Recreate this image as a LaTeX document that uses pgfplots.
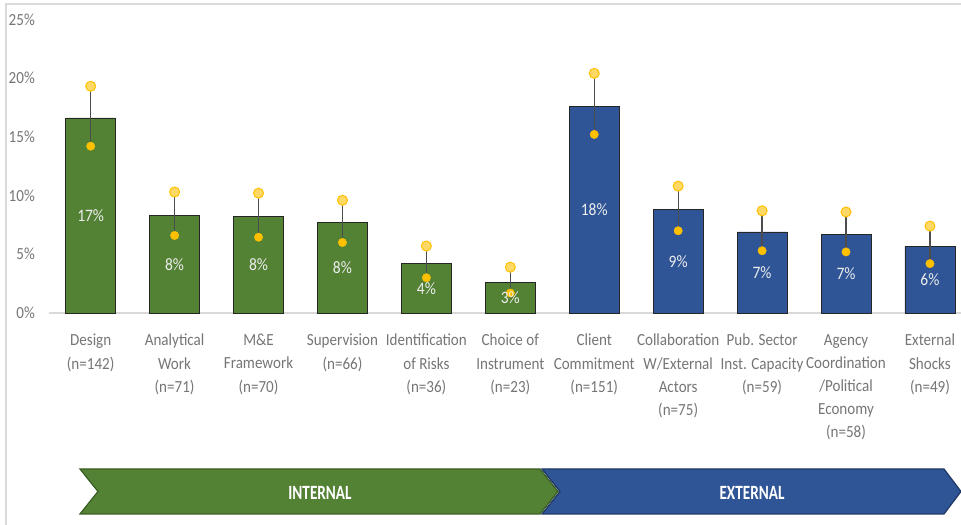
\documentclass[border=0pt]{standalone}
\usepackage{fontspec}
\setmainfont{Carlito}[FakeStretch=0.89]
\usepackage{graphicx}
\usepackage{pgfplots}
\pgfplotsset{compat=1.18}
\definecolor{barGreen}{HTML}{548235}
\definecolor{barBlue}{HTML}{2F5597}
\definecolor{barEdge}{HTML}{262626}
\definecolor{errGray}{HTML}{4D4D4D}
\definecolor{dotGold}{HTML}{FFC000}
\definecolor{dotLight}{HTML}{FFD966}
\definecolor{labGray}{HTML}{767676}
\definecolor{axisGray}{HTML}{D9D9D9}
\definecolor{frameGray}{HTML}{D9D9D9}
\definecolor{valWhite}{HTML}{EDEDED}
\definecolor{greenEdge}{HTML}{3A5E24}
\definecolor{blueEdge}{HTML}{1F3864}
\begin{document}
\begin{tikzpicture}
\useasboundingbox (0,0) rectangle (961bp,525bp);
\fill[white] (0,0) rectangle (961bp,525bp);
\draw[frameGray, line width=1.5bp] (6bp,0) -- (6bp,521bp) -- (961bp,521bp);
\begin{axis}[
  at={(48.7bp,212bp)}, anchor=south west, scale only axis,
  width=912.3bp, height=293.7bp,
  xmin=-0.5, xmax=10.37, ymin=0, ymax=25,
  clip=false,
  axis lines*=left,
  x axis line style={draw=axisGray, line width=1.2bp},
  y axis line style={draw=none},
  tick style={draw=none},
  /pgf/number format/assume math mode=true,
  ytick={0,5,10,15,20,25},
  yticklabel={\pgfmathprintnumber{\tick}\%},
  yticklabel style={font=\fontsize{17}{20}\selectfont, text=labGray, inner sep=0pt, anchor=east, xshift=-13.7bp},
  xtick={0,1,2,3,4,5,6,7,8,9,10},
  xticklabels={
    {Design\\(n=142)},
    {Analytical\\Work\\(n=71)},
    {M\&E\\Framework\\(n=70)},
    {Supervision\\(n=66)},
    {Identification\\of Risks\\(n=36)},
    {Choice of\\Instrument\\(n=23)},
    {Client\\Commitment\\(n=151)},
    {Collaboration\\W/External\\Actors\\(n=75)},
    {Pub. Sector\\Inst. Capacity\\(n=59)},
    {Agency\\Coordination\\/Political\\Economy\\(n=58)},
    {External\\Shocks\\(n=49)}
  },
  xticklabel style={font=\fontsize{17}{23.3}\selectfont, align=center, text=labGray, inner sep=0pt, anchor=north, yshift=-21bp},
]
% internal factors (green)
\addplot[ybar, bar width=50bp, bar shift=0pt, fill=barGreen, draw=barEdge, line width=0.8bp,
  error bars/.cd, y dir=both, y explicit, error mark=none,
  error bar style={draw=errGray, line width=1.2bp}]
  coordinates {
    (0,16.6) += (0,2.7) -= (0,2.4)
    (1,8.3) += (0,2.0) -= (0,1.7)
    (2,8.2) += (0,2.0) -= (0,1.75)
    (3,7.7) += (0,1.9) -= (0,1.7)
    (4,4.2) += (0,1.5) -= (0,1.2)
    (5,2.6) += (0,1.3) -= (0,0.9)
  };
% external factors (blue)
\addplot[ybar, bar width=50bp, bar shift=0pt, fill=barBlue, draw=barEdge, line width=0.8bp,
  error bars/.cd, y dir=both, y explicit, error mark=none,
  error bar style={draw=errGray, line width=1.2bp}]
  coordinates {
    (6,17.6) += (0,2.8) -= (0,2.4)
    (7,8.8) += (0,2.0) -= (0,1.8)
    (8,6.9) += (0,1.8) -= (0,1.6)
    (9,6.7) += (0,1.9) -= (0,1.5)
    (10,5.65) += (0,1.75) -= (0,1.45)
  };
% upper markers
\addplot[only marks, mark=*, mark size=5bp, mark options={fill=dotLight, draw=dotGold, line width=1bp}]
  coordinates {(0,19.3) (1,10.3) (2,10.2) (3,9.6) (4,5.7) (5,3.9) (6,20.4) (7,10.8) (8,8.7) (9,8.6) (10,7.4)};
% lower markers
\addplot[only marks, mark=*, mark size=4.2bp, mark options={fill=dotGold, draw=dotGold}]
  coordinates {(0,14.2) (1,6.6) (2,6.45) (3,6.0) (4,3.0) (5,1.7) (6,15.2) (7,7.0) (8,5.3) (9,5.2) (10,4.2)};
% value labels at bar middles
\addplot[draw=none, mark=none, point meta=explicit symbolic,
  nodes near coords={\pgfplotspointmeta\%},
  every node near coord/.style={anchor=center, inner sep=0pt, font=\fontsize{17.5}{20}\selectfont, text=valWhite}]
  coordinates {(0,8.3)[17] (1,4.15)[8] (2,4.1)[8] (3,3.85)[8] (4,2.1)[4] (5,1.3)[3]
               (6,8.8)[18] (7,4.4)[9] (8,3.45)[7] (9,3.35)[7] (10,2.8)[6]};
\end{axis}
\begin{scope}[x=1bp, y=-1bp, shift={(0,525bp)}]
  \filldraw[fill=barGreen, draw=greenEdge, line width=1.2bp]
    (80,469) -- (540,469) -- (558,491.5) -- (540,514) -- (80,514) -- (98,491.5) -- cycle;
  \filldraw[fill=barBlue, draw=blueEdge, line width=1.2bp]
    (542,469) -- (944,469) -- (961,491.5) -- (944,514) -- (542,514) -- (560,491.5) -- cycle;
  \node[text=white, font=\fontsize{16}{18}\selectfont\bfseries] at (320,492.7) {\scalebox{1.07}[1.27]{INTERNAL}};
  \node[text=white, font=\fontsize{16}{18}\selectfont\bfseries] at (752,492.7) {\scalebox{1.07}[1.27]{EXTERNAL}};
\end{scope}
\end{tikzpicture}
\end{document}
